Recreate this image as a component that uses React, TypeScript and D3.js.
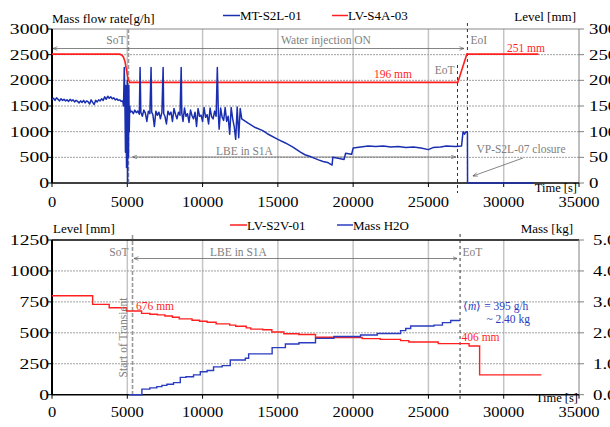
import React from 'react';
import * as d3 from 'd3';

// axis ticks
const timeTicks = [0, 5000, 10000, 15000, 20000, 25000, 30000, 35000];
const flowTicks = [0, 500, 1000, 1500, 2000, 2500, 3000];
const levelTopTicks = [0, 50, 100, 150, 200, 250, 300];
const levelBotTicks = [0, 250, 500, 750, 1000, 1250];
const massTicks = [0, 1, 2, 3, 4, 5];

// MT-S2L-01 mass flow rate [g/h] (time [s], value)
const mtS2L01: [number, number][] = [
  [0, 1620], [100, 1650], [200, 1610], [300, 1660], [400, 1630], [500, 1600], [600, 1640], [700, 1610],
  [800, 1630], [900, 1600], [1000, 1620], [1100, 1590], [1200, 1630], [1300, 1600], [1400, 1620],
  [1500, 1580], [1600, 1610], [1700, 1590], [1800, 1560], [1900, 1600], [2000, 1570], [2100, 1610],
  [2200, 1560], [2300, 1600], [2400, 1580], [2500, 1540], [2600, 1620], [2700, 1570], [2800, 1530],
  [2900, 1610], [3000, 1580], [3100, 1620], [3200, 1600], [3300, 1640], [3400, 1610], [3500, 1680],
  [3600, 1630], [3700, 1690], [3800, 1650], [3900, 1680], [4000, 1640], [4100, 1660], [4200, 1620],
  [4300, 1640], [4400, 1610], [4500, 1620], [4600, 1590], [4700, 1600],
  [4750, 1500], [4800, 2250], [4850, 1400], [4880, 600], [4900, 1900], [4950, 300], [5000, 2000],
  [5020, 0], [5050, 1800], [5080, 500], [5100, 1900], [5130, 1000], [5160, 1500], [5200, 1380],
  [5300, 1400], [5400, 1350], [5500, 1420], [5600, 1370], [5700, 1400], [5800, 1340], [5850, 2250],
  [5900, 1380], [6000, 1300], [6100, 1420], [6200, 1360], [6300, 1200], [6400, 1400], [6500, 1350],
  [6580, 2250], [6620, 1380], [6700, 1330], [6800, 1100], [6900, 1400], [7000, 1320], [7100, 1380],
  [7200, 1250], [7300, 1380], [7380, 2250], [7420, 1350], [7500, 1300], [7600, 1150], [7700, 1400],
  [7800, 1330], [7900, 1380], [8000, 1200], [8100, 1450], [8200, 1340], [8300, 1250], [8400, 1380],
  [8500, 1320], [8580, 2250], [8620, 1360], [8700, 1200], [8800, 1460], [8900, 1300], [9000, 1350],
  [9100, 1180], [9200, 1420], [9300, 1310], [9400, 1250], [9500, 1380], [9600, 1100], [9700, 1450],
  [9800, 1300], [9900, 1320], [10000, 1200], [10100, 1470], [10200, 1280], [10300, 1330], [10400, 1150],
  [10500, 1460], [10600, 1290], [10700, 1250], [10800, 1400], [10900, 1300], [10980, 2250], [11050, 1330],
  [11100, 1050], [11200, 1460], [11300, 1280], [11400, 1220], [11500, 1470], [11600, 1200], [11700, 1300],
  [11800, 950], [11900, 1470], [12000, 1250], [12100, 1100], [12200, 850], [12300, 1480], [12400, 880],
  [12500, 1450], [12600, 1250],
  [13000, 1170], [13500, 1080], [14000, 1020], [14300, 960], [15000, 850], [15500, 780], [16000, 700],
  [16500, 600], [16800, 550], [17200, 510], [17700, 450], [18000, 420], [18300, 400], [18600, 350],
  [18650, 500], [19000, 480], [19400, 460], [19500, 580], [19900, 560], [20000, 680], [20500, 700],
  [21000, 720], [21500, 710], [22000, 720], [22500, 700], [23000, 710], [23500, 690], [24000, 700],
  [24500, 680], [25000, 650], [25300, 690], [25800, 700], [26200, 720], [26800, 710], [27200, 720],
  [27300, 1000], [27400, 950], [27500, 1000], [27590, 980], [27600, 0], [32000, 0],
];

// LV-S4A-03 level [mm]
const lvS4A03: [number, number][] = [
  [0, 251], [4500, 251], [4650, 249], [4750, 245], [4850, 236], [4950, 220], [5050, 203], [5150, 196],
  [26950, 196], [27550, 251], [32300, 251],
];

// LV-S2V-01 level [mm], step values
const lvS2V01: [number, number][] = [
  [0, 800], [2700, 730], [3800, 703], [4950, 676], [5950, 657], [6500, 650], [7000, 645], [7500, 636],
  [8000, 626], [8450, 613], [9300, 602], [9800, 593], [10300, 585], [10900, 572], [11800, 562],
  [12200, 553], [12900, 540], [13200, 530], [14000, 525], [14600, 507], [15400, 492], [16400, 486],
  [17500, 464], [18600, 462], [20600, 453], [21800, 447], [23150, 437], [23700, 426], [25650, 413],
  [27700, 394], [28400, 160], [32500, 160],
];

// Mass H2O [kg], step values
const massH2O: [number, number][] = [
  [5100, 0], [5970, 0.18], [6500, 0.22], [6960, 0.26], [7300, 0.3], [7630, 0.34], [8070, 0.39],
  [8520, 0.56], [8900, 0.58], [9400, 0.64], [9850, 0.74], [10300, 0.78], [10730, 0.9], [11300, 0.94],
  [11840, 1.12], [12840, 1.18], [13060, 1.32], [14620, 1.52], [15500, 1.64], [16400, 1.68],
  [17500, 1.82], [18720, 1.88], [20490, 1.93], [21600, 1.98], [23150, 2.07], [23490, 2.14],
  [23820, 2.22], [25370, 2.25], [25930, 2.33], [26480, 2.4], [27100, 2.4],
];

const RED = '#ff1f1f';
const BLUE = '#1a2eb0';
const BLUE2 = '#2a3cc0';
const GREY = '#808080';
const FONT = '"Liberation Serif", "Times New Roman", serif';

const L = 52, R = 579;
const top = { t: 29, b: 183 };
const bot = { t: 240, b: 394.7 };

const App = () => {
  const x = d3.scaleLinear().domain([0, 35000]).range([L, R]);
  const yFlow = d3.scaleLinear().domain([0, 3000]).range([top.b, top.t]);
  const yLvTop = d3.scaleLinear().domain([0, 300]).range([top.b, top.t]);
  const yLvBot = d3.scaleLinear().domain([0, 1250]).range([bot.b, bot.t]);
  const yMass = d3.scaleLinear().domain([0, 5]).range([bot.b, bot.t]);

  const flowLine = d3.line<[number, number]>().x(d => x(d[0])).y(d => yFlow(d[1]));
  const lvTopLine = d3.line<[number, number]>().x(d => x(d[0])).y(d => yLvTop(d[1]));
  const lvBotLine = d3.line<[number, number]>().x(d => x(d[0])).y(d => yLvBot(d[1])).curve(d3.curveStepAfter);
  const massLine = d3.line<[number, number]>().x(d => x(d[0])).y(d => yMass(d[1])).curve(d3.curveStepAfter);

  const fmtMass = d3.format('.2f');

  // frame, grid and both y axes of one panel
  const frame = (pt: { t: number; b: number }, yl: d3.ScaleLinear<number, number>, lt: number[],
    yr: d3.ScaleLinear<number, number>, rt: number[], rfmt: (v: number) => string, rx: number,
    xLabY: number, topStroke: string) => (
    <g>
      {timeTicks.slice(1, -1).map(t => (
        <line key={'v' + t} x1={x(t)} x2={x(t)} y1={pt.t} y2={pt.b} stroke="#c4c4c4" strokeWidth={1.5} />
      ))}
      {lt.slice(1, -1).map(t => (
        <line key={'h' + t} x1={L} x2={R} y1={yl(t)} y2={yl(t)} stroke="#a0a0a0" strokeWidth={1} strokeDasharray="2,1" />
      ))}
      <line x1={L} x2={R} y1={pt.t} y2={pt.t} stroke={topStroke} strokeWidth={topStroke === '#000' ? 1.5 : 1} />
      <line x1={R} x2={R} y1={pt.t} y2={pt.b} stroke="#808080" strokeWidth={1} />
      {rt.map(t => (
        <g key={'r' + t}>
          <line x1={R} x2={R + 5} y1={yr(t)} y2={yr(t)} stroke="#808080" />
          <text transform={`translate(${rx},${yr(t) + 5}) scale(1.3,1)`} fontSize={14.5}>{rfmt(t)}</text>
        </g>
      ))}
      {lt.map(t => (
        <g key={'l' + t}>
          <line x1={L - 5} x2={L} y1={yl(t)} y2={yl(t)} stroke="#000" />
          <text transform={`translate(${L - 3},${yl(t) + 5}) scale(1.4,1)`} fontSize={14} textAnchor="end">{t}</text>
        </g>
      ))}
      {timeTicks.map(t => (
        <g key={'x' + t}>
          <line x1={x(t)} x2={x(t)} y1={pt.b} y2={pt.b + 4} stroke="#000" />
          <text transform={`translate(${x(t)},${xLabY}) scale(1.1,1)`} fontSize={15} textAnchor="middle">{t}</text>
        </g>
      ))}
      <line x1={L} x2={R} y1={pt.b} y2={pt.b} stroke="#000" strokeWidth={1.5} />
      <line x1={L} x2={L} y1={pt.t} y2={pt.b} stroke="#000" strokeWidth={2} />
    </g>
  );

  return (
    <svg width={610} height={427} style={{ position: 'absolute', left: 0, top: 0, background: '#fff' }} fontFamily={FONT}>
      <defs>
        <marker id="ar" viewBox="0 0 8 8" refX={7.5} refY={4} markerWidth={6} markerHeight={6} orient="auto-start-reverse">
          <path d="M0,1 L8,4 L0,7" fill="none" stroke="#555" strokeWidth={1} />
        </marker>
      </defs>
      <rect width={610} height={427} fill="#fff" />

      {/* ---------- top chart ---------- */}
      {frame(top, yFlow, flowTicks, yLvTop, levelTopTicks, v => String(v), 589, 207, '#888')}

      {/* annotations top */}
      <line x1={x(5080)} x2={x(5080)} y1={top.t} y2={top.b} stroke="#999" strokeWidth={1.6} strokeDasharray="4,2" />
      <line x1={x(27590)} x2={x(27590)} y1={23} y2={top.b} stroke="#333" strokeWidth={1} strokeDasharray="3,3" />
      <line x1={x(26930)} x2={x(26930)} y1={65} y2={193} stroke="#333" strokeWidth={1} strokeDasharray="3,3" />
      <line x1={L + 1} x2={x(27350)} y1={48.5} y2={48.5} stroke="#666" strokeWidth={0.8} markerStart="url(#ar)" markerEnd="url(#ar)" />
      <line x1={x(5350)} x2={x(26800)} y1={157} y2={157} stroke="#666" strokeWidth={0.8} markerStart="url(#ar)" markerEnd="url(#ar)" />
      <line x1={523} y1={158} x2={473} y2={176} stroke="#666" strokeWidth={0.8} markerEnd="url(#ar)" />

      <path d={lvTopLine(lvS4A03) ?? ''} fill="none" stroke={RED} strokeWidth={1.6} />
      <path d={flowLine(mtS2L01) ?? ''} fill="none" stroke={BLUE} strokeWidth={1.5} strokeLinejoin="round" />

      <rect x={214} y={144} width={62} height={12} fill="#fff" />
      <text x={244.5} y={155} fontSize={11.5} fill={GREY} textAnchor="middle">LBE in S1A</text>
      <text x={125.5} y={43.5} fontSize={11.5} fill={GREY} textAnchor="end">SoT</text>
      <text x={326} y={44} fontSize={11.5} fill={GREY} textAnchor="middle">Water injection ON</text>
      <text x={470.5} y={43.5} fontSize={11.5} fill={GREY}>EoI</text>
      <text x={454.5} y={73.5} fontSize={11.5} fill={GREY} textAnchor="end">EoT</text>
      <text x={393} y={77.5} fontSize={11.5} fill={RED} textAnchor="middle">196 mm</text>
      <text x={526} y={52} fontSize={11.5} fill={RED} textAnchor="middle">251 mm</text>
      <text x={521} y={153} fontSize={11.5} fill={GREY} textAnchor="middle">VP-S2L-07 closure</text>
      <text x={577} y={192} fontSize={12.5} textAnchor="end">Time [s]</text>

      <text x={52} y={23} fontSize={13}>Mass flow rate[g/h]</text>
      <text x={576} y={20.5} fontSize={13} textAnchor="end">Level [mm]</text>
      <line x1={223} x2={240} y1={15.5} y2={15.5} stroke={BLUE} strokeWidth={1.5} />
      <text x={240} y={20} fontSize={13}>MT-S2L-01</text>
      <line x1={332} x2={348} y1={15.5} y2={15.5} stroke={RED} strokeWidth={1.5} />
      <text x={348} y={20} fontSize={13}>LV-S4A-03</text>

      {/* ---------- bottom chart ---------- */}
      {frame(bot, yLvBot, levelBotTicks, yMass, massTicks, v => fmtMass(v), 593, 417, '#000')}

      <line x1={132.5} x2={132.5} y1={235} y2={bot.b} stroke="#999" strokeWidth={1.6} strokeDasharray="4,2" />
      <line x1={x(27100)} x2={x(27100)} y1={234} y2={400} stroke="#333" strokeWidth={1} strokeDasharray="3,3" />
      <line x1={x(5450)} x2={x(26900)} y1={258.5} y2={258.5} stroke="#666" strokeWidth={0.8} markerStart="url(#ar)" markerEnd="url(#ar)" />

      <path d={lvBotLine(lvS2V01) ?? ''} fill="none" stroke={RED} strokeWidth={1.4} />
      <path d={massLine(massH2O) ?? ''} fill="none" stroke={BLUE2} strokeWidth={1.4} />

      <rect x={208} y={245} width={61} height={12} fill="#fff" />
      <text x={238.5} y={255.5} fontSize={11.5} fill={GREY} textAnchor="middle">LBE in S1A</text>
      <text x={128.5} y={256} fontSize={11.5} fill={GREY} textAnchor="end">SoT</text>
      <text x={462.5} y={256} fontSize={11.5} fill={GREY}>EoT</text>
      <text transform="translate(127,337.5) rotate(-90)" fontSize={11.5} fill={GREY} textAnchor="middle">Start of Transient</text>
      <text x={136} y={310} fontSize={11.5} fill={RED}>676 mm</text>
      <text x={461.5} y={341} fontSize={11.5} fill={RED}>406 mm</text>
      <text x={463} y={310} fontSize={11.5} fill={BLUE2}>
        ⟨<tspan fontStyle="italic">ṁ</tspan>⟩ = 395 g/h
      </text>
      <text x={530} y={322.5} fontSize={11.5} fill={BLUE2} textAnchor="end">~ 2.40 kg</text>
      <text x={578} y={402} fontSize={12.5} textAnchor="end">Time [s]</text>

      <text x={53} y={232.5} fontSize={13}>Level [mm]</text>
      <text x={573} y={233} fontSize={13} textAnchor="end">Mass [kg]</text>
      <line x1={230} x2={247} y1={225} y2={225} stroke={RED} strokeWidth={1.5} />
      <text x={247} y={229.5} fontSize={13}>LV-S2V-01</text>
      <line x1={337} x2={353} y1={225} y2={225} stroke={BLUE2} strokeWidth={1.5} />
      <text x={353} y={229.5} fontSize={13}>Mass H2O</text>
    </svg>
  );
};

export default App;
